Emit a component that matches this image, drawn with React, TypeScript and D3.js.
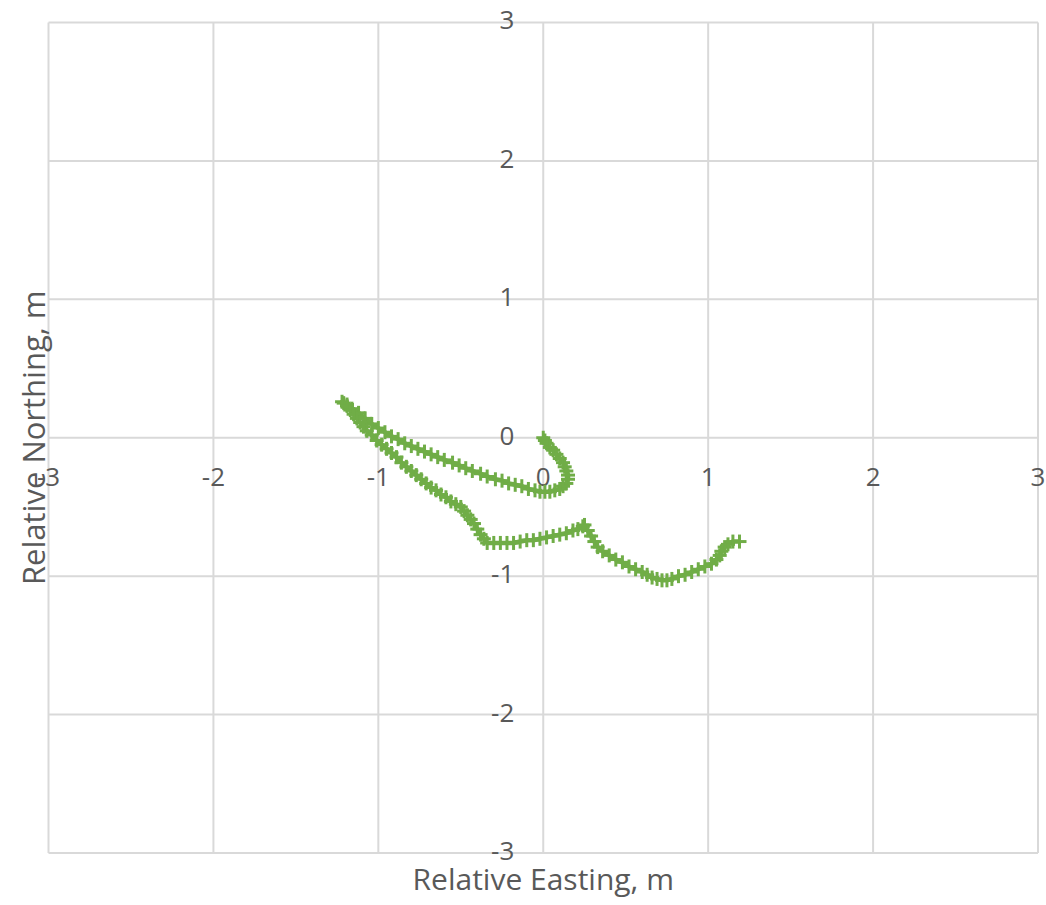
import React, { useEffect, useRef } from "react";
import * as d3 from "d3";

// relative track positions (m)
const easting = [
  0.0, 0.01, 0.02, 0.04, 0.06, 0.08, 0.1, 0.12, 0.13, 0.14, 0.15, 0.15, 0.14, 0.12, 0.1, 0.07, 0.04, 0.01, -0.02, -0.05,
  -0.09, -0.13, -0.17, -0.21, -0.25, -0.29, -0.34, -0.38, -0.43, -0.47, -0.51, -0.55, -0.6, -0.64, -0.68, -0.72, -0.76,
  -0.8, -0.84, -0.88, -0.92, -0.96, -1.0, -1.04, -1.08, -1.12, -1.16, -1.19, -1.21, -1.22,
  -1.19, -1.17, -1.15, -1.13, -1.11, -1.09, -1.07, -1.04, -1.01, -0.98, -0.95, -0.92, -0.89, -0.86, -0.83, -0.8, -0.77,
  -0.74, -0.71, -0.68, -0.65, -0.62, -0.59, -0.56, -0.53, -0.5, -0.48, -0.46, -0.44, -0.42, -0.4, -0.38, -0.36, -0.34,
  -0.3, -0.26, -0.22, -0.18, -0.14, -0.1, -0.06, -0.02, 0.02, 0.06, 0.1, 0.14, 0.18, 0.21, 0.24, 0.25,
  0.27, 0.29, 0.31, 0.33, 0.36, 0.4, 0.44, 0.48, 0.52, 0.56, 0.6, 0.63, 0.66, 0.69, 0.72, 0.75, 0.78, 0.82, 0.86, 0.9,
  0.94, 0.98, 1.02, 1.05, 1.07, 1.08, 1.1, 1.12, 1.15, 1.19,
];
const northing = [
  0.0, -0.02, -0.04, -0.07, -0.09, -0.12, -0.15, -0.18, -0.21, -0.24, -0.27, -0.3, -0.33, -0.35, -0.37, -0.38, -0.39,
  -0.39, -0.39, -0.38,
  -0.37, -0.35, -0.34, -0.33, -0.31, -0.3, -0.28, -0.26, -0.24, -0.22, -0.2, -0.18, -0.16, -0.14, -0.12, -0.1, -0.08,
  -0.06, -0.04, -0.01, 0.01, 0.04, 0.07, 0.1, 0.14, 0.18, 0.21, 0.24, 0.25, 0.26,
  0.23, 0.2, 0.17, 0.14, 0.11, 0.08, 0.05, 0.02, -0.02, -0.05, -0.08, -0.11, -0.14, -0.18, -0.21, -0.24, -0.27, -0.3,
  -0.33, -0.36, -0.38, -0.41, -0.43, -0.46, -0.48, -0.5, -0.53, -0.56, -0.59, -0.62, -0.66, -0.7, -0.73, -0.76,
  -0.76, -0.76, -0.76, -0.76, -0.75, -0.74, -0.74, -0.73, -0.72, -0.71, -0.7, -0.69, -0.67, -0.66, -0.64, -0.63,
  -0.67, -0.71, -0.75, -0.79, -0.82, -0.85, -0.88, -0.9, -0.93, -0.95, -0.97, -0.99, -1.01, -1.02, -1.03, -1.03, -1.02,
  -1.0, -0.99, -0.97, -0.95, -0.93, -0.91, -0.88, -0.85, -0.82, -0.79, -0.77, -0.75, -0.75,
];
const ticks = [-3, -2, -1, 0, 1, 2, 3];

const W = 1046;
const H = 905;
const margin = { top: 22.5, right: 8, bottom: 52, left: 48.5 };
const green = "#70AD47";
const grid = "#D9D9D9";
const textColor = "#595959";
const font = "'Open Sans', 'Noto Sans', sans-serif";

export default function App() {
  const ref = useRef<SVGSVGElement>(null);

  useEffect(() => {
    const svg = d3.select(ref.current);
    svg.selectAll("*").remove();

    const x = d3.scaleLinear().domain([-3, 3]).range([margin.left, W - margin.right]);
    const y = d3.scaleLinear().domain([-3, 3]).range([H - margin.bottom, margin.top]);

    svg.append("rect").attr("width", W).attr("height", H).attr("fill", "white");

    // gridlines
    const g = svg.append("g");
    ticks.forEach((t) => {
      g.append("line")
        .attr("x1", x(t)).attr("x2", x(t))
        .attr("y1", y(-3)).attr("y2", y(3))
        .attr("stroke", grid).attr("stroke-width", 2);
      g.append("line")
        .attr("x1", x(-3)).attr("x2", x(3))
        .attr("y1", y(t)).attr("y2", y(t))
        .attr("stroke", grid).attr("stroke-width", 2);
    });

    // tick labels next to the zero axes
    ticks.forEach((t) => {
      svg.append("text")
        .attr("x", x(t)).attr("y", y(0) + 41)
        .attr("text-anchor", "middle")
        .attr("dominant-baseline", "middle")
        .attr("font-family", font).attr("font-size", 26)
        .attr("fill", textColor)
        .text(t);
      svg.append("text")
        .attr("x", x(0) - 29).attr("y", y(t))
        .attr("text-anchor", "end")
        .attr("dominant-baseline", "middle")
        .attr("font-family", font).attr("font-size", 26)
        .attr("fill", textColor)
        .text(t);
    });

    // axis titles
    svg.append("text")
      .attr("x", x(0)).attr("y", 890)
      .attr("text-anchor", "middle")
      .attr("font-family", font).attr("font-size", 30)
      .attr("fill", textColor)
      .text("Relative Easting, m");
    svg.append("text")
      .attr("transform", `translate(45,${y(0)}) rotate(-90)`)
      .attr("text-anchor", "middle")
      .attr("font-family", font).attr("font-size", 31)
      .attr("fill", textColor)
      .text("Relative Northing, m");

    const pts = easting.map((e, i) => [e, northing[i]] as [number, number]);

    const line = d3.line<[number, number]>().x((d) => x(d[0])).y((d) => y(d[1]));
    svg.append("path")
      .attr("d", line(pts))
      .attr("fill", "none")
      .attr("stroke", green)
      .attr("stroke-width", 4.5)
      .attr("stroke-linejoin", "round");

    // "+" markers
    const m = svg.append("g").attr("stroke", green).attr("stroke-width", 3);
    pts.forEach((d) => {
      const px = x(d[0]);
      const py = y(d[1]);
      m.append("line").attr("x1", px - 7).attr("x2", px + 7).attr("y1", py).attr("y2", py);
      m.append("line").attr("x1", px).attr("x2", px).attr("y1", py - 7).attr("y2", py + 7);
    });
  }, []);

  return (
    <div style={{ position: "absolute", left: 0, top: 0 }}>
      <svg ref={ref} width={W} height={H} style={{ display: "block" }} />
    </div>
  );
}
